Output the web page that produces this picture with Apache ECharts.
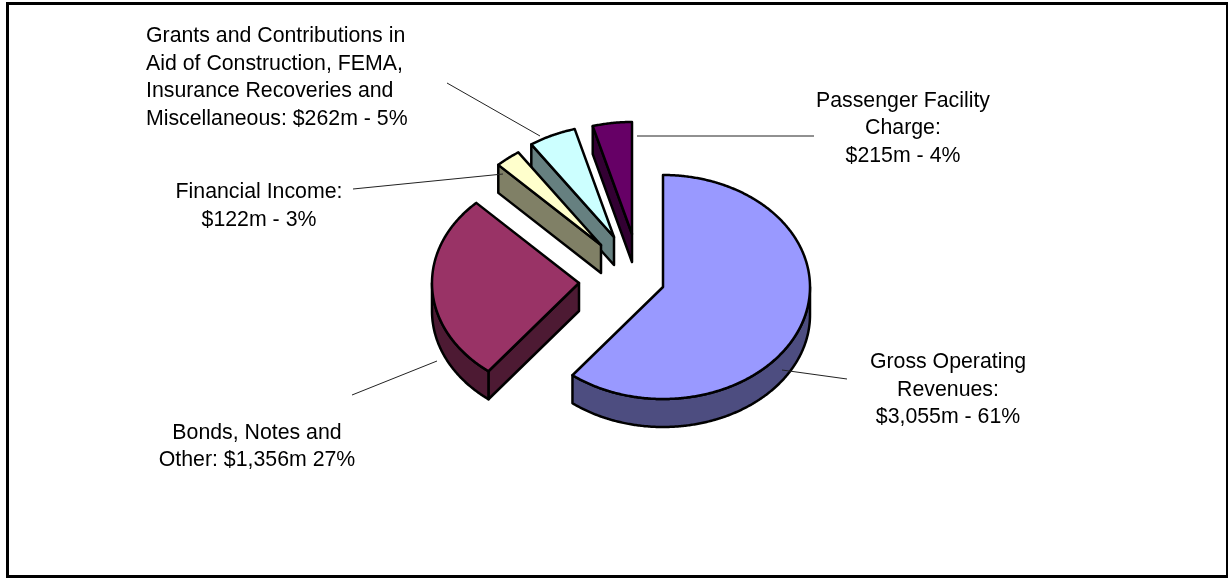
<!DOCTYPE html>
<html>
<head>
<meta charset="utf-8">
<style>html,body{margin:0;padding:0;background:#fff}#chart{width:1228px;height:579px}</style>
<script src="https://cdn.jsdelivr.net/npm/echarts@6/dist/echarts.min.js"></script>
</head>
<body>
<div id="chart"></div>
<script>
// Data: categories and slice shares (percent)
const categories = ['Gross Operating Revenues', 'Bonds, Notes and Other', 'Financial Income', 'Grants and Contributions', 'Passenger Facility Charge'];
const shares = [60.5, 27.1, 2.8, 5.2, 4.3];
const labelTexts = [
  'Gross Operating\nRevenues:\n$3,055m - 61%',
  'Bonds, Notes and\nOther: $1,356m 27%',
  'Financial Income:\n$122m - 3%',
  'Grants and Contributions in\nAid of Construction, FEMA,\nInsurance Recoveries and\nMiscellaneous: $262m - 5%',
  'Passenger Facility\nCharge:\n$215m - 4%'
];

// Styles and layout
const topColors = ['#9999FF', '#993366', '#FFFFCC', '#CCFFFF', '#660066'];
const sideColors = ['#4D4D80', '#4D1A33', '#808066', '#668080', '#330033'];
const pie = { cx: 622, cy: 276, rx: 147, ry: 112, depth: 28 };
const explode = [[41, 11], [-43, 7], [-21, -31], [-8, -39], [10, -42]];
const drawOrder = [4, 3, 2, 1, 0];
const labelLayout = [
  { x: 948, y: 390, align: 'center', line: [782, 370, 847, 379] },
  { x: 257, y: 446.5, align: 'center', line: [437, 361, 352, 395] },
  { x: 259, y: 206, align: 'center', line: [503, 174, 353, 189] },
  { x: 146, y: 77.5, align: 'left', line: [540, 136, 447, 83] },
  { x: 903, y: 128.5, align: 'center', line: [637, 136, 814, 136] }
];
const total = shares.reduce((a, b) => a + b, 0);
const starts = [];
shares.reduce((acc, v, i) => { starts[i] = acc; return acc + v / total * 360; }, 0);

const rad = d => d * Math.PI / 180;
function pt(c, t, dy) {
  return [c[0] + pie.rx * Math.sin(rad(t)), c[1] - pie.ry * Math.cos(rad(t)) + (dy || 0)];
}
function arc(c, a, b, dy) {
  const out = [];
  const n = Math.max(2, Math.ceil(Math.abs(b - a) * 2));
  for (let i = 0; i <= n; i++) out.push(pt(c, a + (b - a) * i / n, dy));
  return out;
}
function poly(points, fill) {
  return {
    type: 'polygon',
    shape: { points: points },
    style: { fill: fill, stroke: '#000', lineWidth: 2.5, lineJoin: 'round' }
  };
}
function renderSlice(params, api) {
  const i = api.value(0);
  const t0 = starts[i];
  const t1 = t0 + api.value(1) / total * 360;
  const c = [pie.cx + explode[i][0], pie.cy + explode[i][1]];
  const c2 = [c[0], c[1] + pie.depth];
  const kids = [];
  // cut faces that look toward the viewer
  if (Math.sin(rad(t0)) < -1e-6) {
    kids.push(poly([c, pt(c, t0), pt(c, t0, pie.depth), c2], sideColors[i]));
  }
  if (Math.sin(rad(t1)) > 1e-6) {
    kids.push(poly([c, pt(c, t1), pt(c, t1, pie.depth), c2], sideColors[i]));
  }
  // outer rim, front half only
  const a = Math.max(t0, 90), b = Math.min(t1, 270);
  if (b > a) {
    kids.push(poly(arc(c, a, b, 0).concat(arc(c, b, a, pie.depth)), sideColors[i]));
  }
  kids.push(poly([c].concat(arc(c, t0, t1, 0)), topColors[i]));
  return { type: 'group', children: kids };
}
function renderLabel(params, api) {
  const i = api.value(0);
  const l = labelLayout[i];
  return {
    type: 'group',
    children: [
      {
        type: 'line',
        shape: { x1: l.line[0], y1: l.line[1], x2: l.line[2], y2: l.line[3] },
        style: { stroke: '#222', lineWidth: 1 }
      },
      {
        type: 'text',
        style: {
          x: l.x, y: l.y, text: labelTexts[i], fill: '#000',
          font: '21.3px "Liberation Sans", Arial, sans-serif',
          lineHeight: 27.5, align: l.align, verticalAlign: 'middle'
        }
      }
    ]
  };
}

const chart = echarts.init(document.getElementById('chart'), null, { renderer: 'canvas' });
chart.setOption({
  animation: false,
  backgroundColor: '#fff',
  tooltip: { show: false },
  graphic: [{
    type: 'rect', silent: true, z: 0,
    shape: { x: 7.5, y: 3.5, width: 1220, height: 573 },
    style: { fill: '#fff', stroke: '#000', lineWidth: 3 }
  }],
  series: [
    {
      type: 'custom', name: 'Slices', coordinateSystem: 'none', z: 2, silent: true,
      renderItem: renderSlice,
      data: drawOrder.map(i => ({ name: categories[i], value: [i, shares[i]] }))
    },
    {
      type: 'custom', name: 'Labels', coordinateSystem: 'none', z: 3, silent: true,
      renderItem: renderLabel,
      data: categories.map((name, i) => ({ name: name, value: [i, shares[i]] }))
    }
  ]
});
</script>
</body>
</html>
